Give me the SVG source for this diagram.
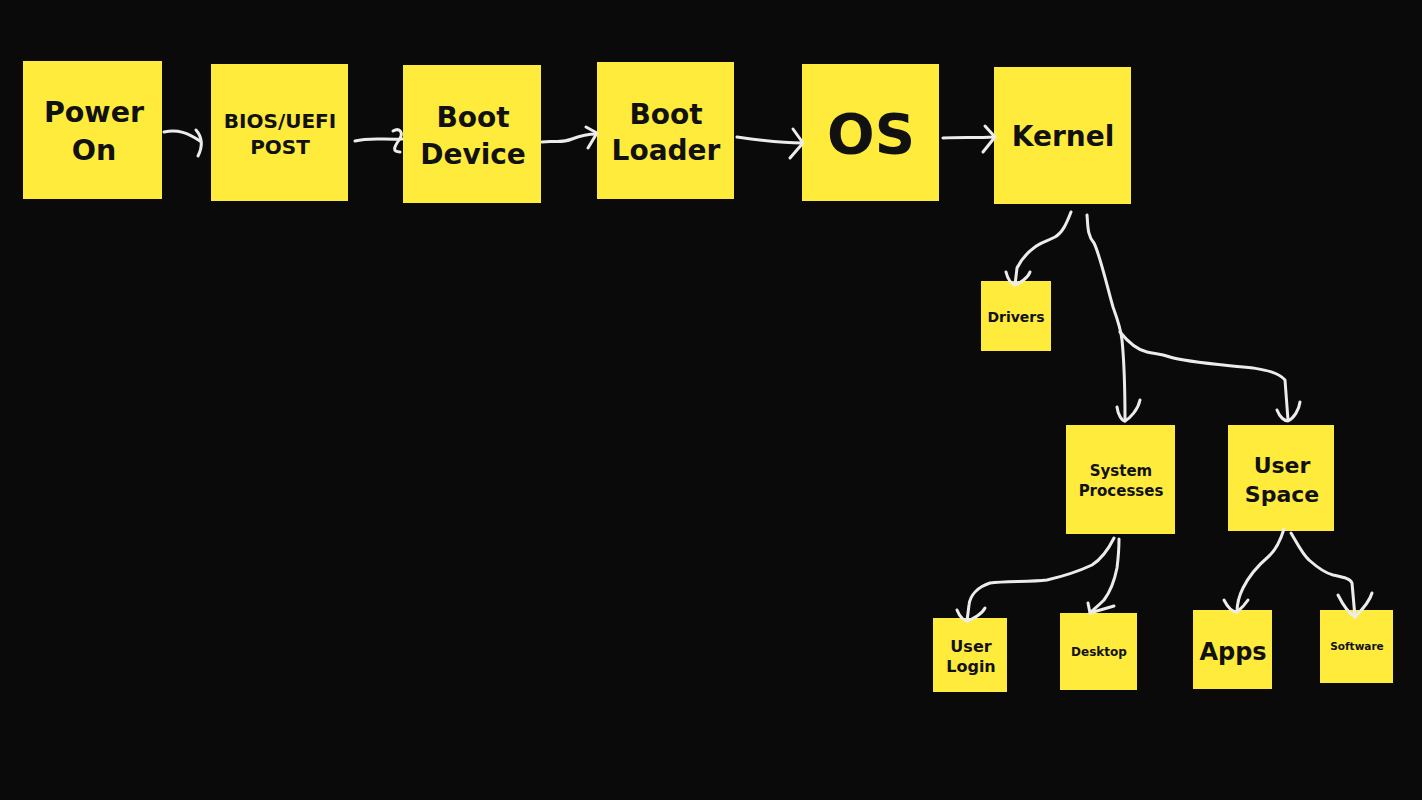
<svg xmlns="http://www.w3.org/2000/svg" width="1422" height="800" viewBox="0 0 1422 800">
<style>
.note{fill:#FFEB3B}
.t{font-family:"DejaVu Sans","Liberation Sans",sans-serif;font-weight:bold;fill:#111;text-anchor:middle}
.c{fill:none;stroke:#ECECEC;stroke-width:3;stroke-linecap:round;stroke-linejoin:round}
</style>
<rect width="1422" height="800" fill="#0A0A0A"/>
<g id="power-on"><rect class="note" x="23" y="61" width="139" height="138"/><text class="t" font-size="28.5"><tspan x="94" y="122">Power</tspan><tspan x="94" y="160">On</tspan></text></g>
<g id="bios"><rect class="note" x="211" y="64" width="137" height="137"/><text class="t" font-size="20"><tspan x="280" y="128">BIOS/UEFI</tspan><tspan x="280" y="154">POST</tspan></text></g>
<g id="boot-device"><rect class="note" x="403" y="65" width="138" height="138"/><text class="t" font-size="28"><tspan x="473" y="127">Boot</tspan><tspan x="473" y="164">Device</tspan></text></g>
<g id="boot-loader"><rect class="note" x="597" y="62" width="137" height="137"/><text class="t" font-size="28"><tspan x="666" y="124">Boot</tspan><tspan x="666" y="160">Loader</tspan></text></g>
<g id="os"><rect class="note" x="802" y="64" width="137" height="137"/><text class="t" font-size="56" x="871" y="153">OS</text></g>
<g id="kernel"><rect class="note" x="994" y="67" width="137" height="137"/><text class="t" font-size="28" x="1063" y="146">Kernel</text></g>
<g id="drivers"><rect class="note" x="981" y="281" width="70" height="70"/><text class="t" font-size="14" x="1016" y="322">Drivers</text></g>
<g id="system-processes"><rect class="note" x="1066" y="425" width="109" height="109"/><text class="t" font-size="15"><tspan x="1121" y="476">System</tspan><tspan x="1121" y="496">Processes</tspan></text></g>
<g id="user-space"><rect class="note" x="1228" y="425" width="106" height="106"/><text class="t" font-size="22"><tspan x="1282" y="473">User</tspan><tspan x="1282" y="502">Space</tspan></text></g>
<g id="user-login"><rect class="note" x="933" y="618" width="74" height="74"/><text class="t" font-size="16"><tspan x="971" y="652">User</tspan><tspan x="971" y="672">Login</tspan></text></g>
<g id="desktop"><rect class="note" x="1060" y="613" width="77" height="77"/><text class="t" font-size="12" x="1099" y="656">Desktop</text></g>
<g id="apps"><rect class="note" x="1193" y="610" width="79" height="79"/><text class="t" font-size="24" x="1233" y="660">Apps</text></g>
<g id="software"><rect class="note" x="1320" y="610" width="73" height="73"/><text class="t" font-size="10.5" x="1357" y="650">Software</text></g>
<g id="connectors" class="c">
<path d="M164,132 C178,129 188,133 200,141"/><path d="M196,130 C203,138 202,148 198,156"/>
<path d="M355,141 C370,137 385,140 402,139"/><path d="M393,131 C400,127 404,133 399,140 C394,147 392,152 400,152"/>
<path d="M542,142 C555,140 560,144 572,139 C580,136 588,134 596,134"/><path d="M586,127 L597,133 L588,148"/>
<path d="M737,137 C758,140 780,143 802,143"/><path d="M793,129 L803,143 L790,158"/>
<path d="M943,138 C960,137 975,138 994,137"/><path d="M985,126 L995,137 L983,152"/>
<path d="M1071,212 C1066,225 1062,233 1055,237 C1045,242 1040,243 1035,247 C1028,252 1022,258 1017,268 L1015,285"/><path d="M1006,272 C1008,280 1012,284 1015,285 C1020,283 1028,278 1030,272"/>
<path d="M1087,215 C1088,225 1087,235 1094,243 C1100,255 1108,290 1113,307 C1117,318 1121,330 1122,340 C1125,370 1125,400 1125,421"/><path d="M1117,407 C1118,415 1122,421 1125,421 C1130,418 1138,410 1140,400"/>
<path d="M1120,332 C1128,342 1138,350 1147,352 C1155,354 1160,353 1170,357 C1185,362 1215,364 1253,368 C1265,370 1278,372 1285,380 L1288,420"/><path d="M1277,410 C1280,418 1285,421 1288,421 C1294,418 1299,410 1300,402"/>
<path d="M1114,538 C1108,550 1100,560 1092,565 C1075,573 1060,577 1047,580 C1030,582 1005,581 990,583 C978,587 970,595 969,605 L967,621"/><path d="M957,610 C960,618 965,621 967,621 C973,619 982,614 985,608"/>
<path d="M1119,539 C1119,550 1118,560 1117,568 C1114,583 1110,592 1104,600 C1098,606 1093,610 1090,613"/><path d="M1088,603 L1090,613 L1114,606"/>
<path d="M1284,529 C1279,545 1274,552 1268,557 C1255,568 1248,578 1243,588 C1239,596 1237,602 1237,612"/><path d="M1224,600 C1228,608 1233,612 1237,612 C1242,608 1246,603 1248,600"/>
<path d="M1291,533 C1298,545 1303,555 1309,560 C1318,568 1325,573 1333,575 C1342,577 1350,578 1352,583 L1355,617"/><path d="M1338,595 C1343,605 1350,614 1355,617 C1362,610 1370,600 1372,593"/>
</g>
</svg>
